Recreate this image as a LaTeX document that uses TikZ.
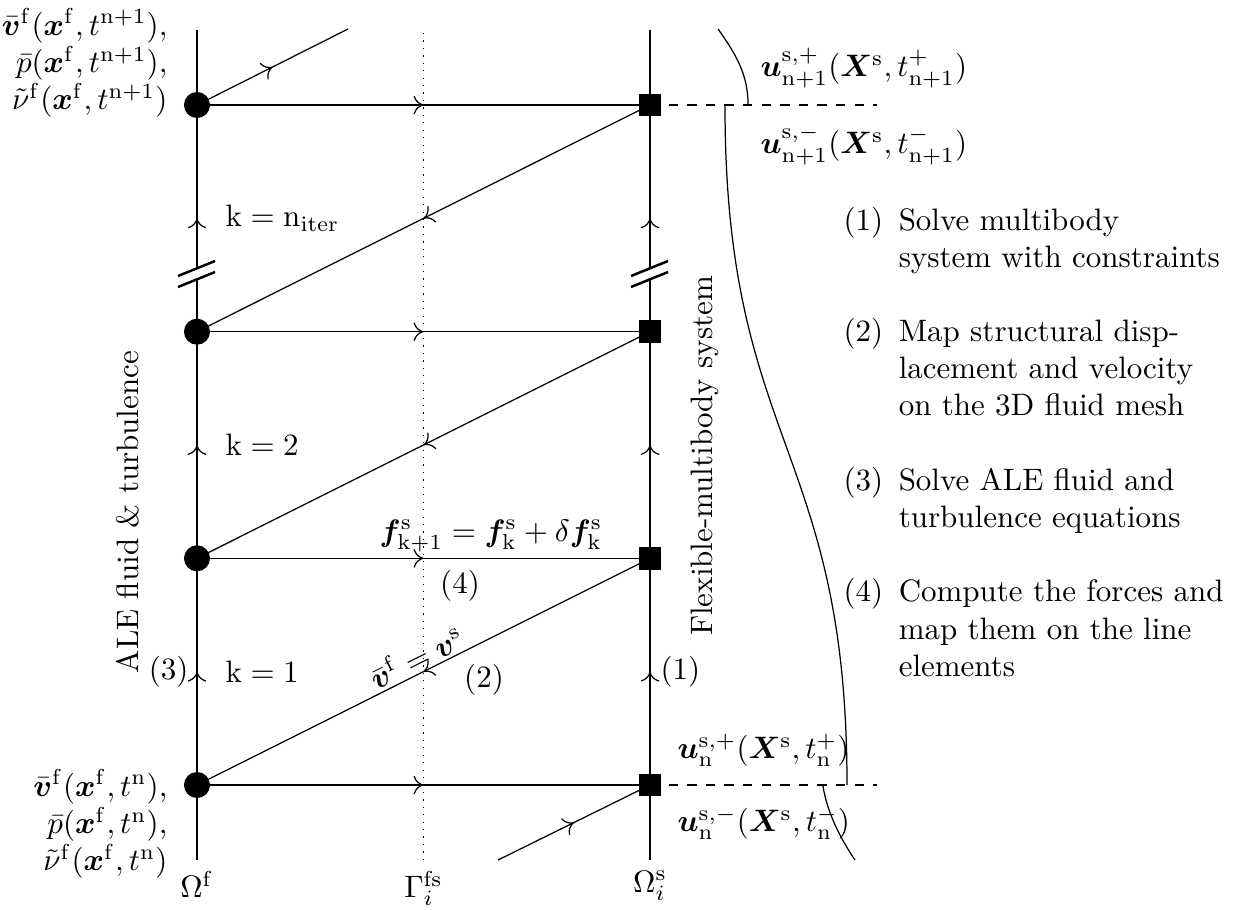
\documentclass[tikz,border=0pt]{standalone}
\usepackage{amsmath,bm}
\usetikzlibrary{decorations.markings,arrows.meta}
\pgfdeclarelayer{bg}
\pgfsetlayers{bg,main}
\tikzset{
  midarrow/.style={postaction={decorate},decoration={markings,mark=at position 0.5 with {\arrow{To[length=3.2pt,width=6pt]}}}},
  fnode/.style={circle,fill=black,inner sep=0pt,minimum size=8.4pt},
  snode/.style={rectangle,fill=black,inner sep=0pt,minimum size=7.3pt},
  brkline/.style={thick},
  tight/.style={inner sep=0pt},
}
\newcommand{\rmm}[1]{\mathrm{#1}}
\begin{document}
\begin{tikzpicture}[x=0.3226pt,y=-0.3226pt]
\useasboundingbox (0,0) rectangle (1234,909);
% fluid nodes (circles) and structure nodes (squares)
\node[fnode] (f0) at (197,785) {};
\node[fnode] (f1) at (197,558.3) {};
\node[fnode] (f2) at (197,331.7) {};
\node[fnode] (f3) at (197,105) {};
\node[snode] (s0) at (650,785) {};
\node[snode] (s1) at (650,558.3) {};
\node[snode] (s2) at (650,331.7) {};
\node[snode] (s3) at (650,105) {};
\coordinate (fbot) at (197,860);
\coordinate (ftop) at (197,30);
\coordinate (sbot) at (650,860);
\coordinate (stop) at (650,30);
\coordinate (gbot) at (423.5,860);
\coordinate (gtop) at (423.5,30);
\coordinate (in0) at (498,860);
\coordinate (out3) at (348,29);
\coordinate (d3) at (877,105);
\coordinate (d0) at (877,785);
\begin{pgfonlayer}{bg}
\draw (fbot) -- (f0.center);
\draw[midarrow] (f0.center) -- (f1.center);
\draw[midarrow] (f1.center) -- (f2.center);
\draw[midarrow] (f2.center) -- (f3.center);
\draw (f3.center) -- (ftop);
\draw (sbot) -- (s0.center);
\draw[midarrow] (s0.center) -- (s1.center);
\draw[midarrow] (s1.center) -- (s2.center);
\draw[midarrow] (s2.center) -- (s3.center);
\draw (s3.center) -- (stop);
\draw[dotted] (gbot) -- (gtop);
\draw[midarrow] (f0.center) -- (s0.center);
\draw[midarrow] (f1.center) -- (s1.center);
\draw[midarrow] (f2.center) -- (s2.center);
\draw[midarrow] (f3.center) -- (s3.center);
\draw[midarrow] (s1.center) -- (f0.center);
\draw[midarrow] (s2.center) -- (f1.center);
\draw[midarrow] (s3.center) -- (f2.center);
\draw[midarrow] (in0) -- (s0.center);
\draw[midarrow] (f3.center) -- (out3);
\draw[dashed] (s3.center) -- (d3);
\draw[dashed] (s0.center) -- (d0);
\end{pgfonlayer}
% break marks
\fill[white] (178,276) -- (215,261) -- (215,271) -- (178,286) -- cycle;
\draw[brkline] (178,276) -- (215,261);
\draw[brkline] (178,287) -- (215,272);
\fill[white] (631,276) -- (668,261) -- (668,271) -- (631,286) -- cycle;
\draw[brkline] (631,276) -- (668,261);
\draw[brkline] (631,287) -- (668,272);
% wavy separator
\draw (718,29) .. controls (736,54) and (748,75) .. (748,104);
\draw (725,106) .. controls (725,446) and (847,446) .. (847,785);
\draw (823,786) .. controls (827,812) and (840,838) .. (855,860);
% left labels
\node[tight,anchor=east,align=right] (lt) at (168,63)
  {$\bar{\bm v}^{\rmm f}(\bm x^{\rmm f},t^{\rmm{n+1}}),$\\
   $\bar{p}(\bm x^{\rmm f},t^{\rmm{n+1}}),$\\
   $\tilde{\nu}^{\rmm f}(\bm x^{\rmm f},t^{\rmm{n+1}})$};
\node[tight,anchor=east,align=right] (lb) at (168,824)
  {$\bar{\bm v}^{\rmm f}(\bm x^{\rmm f},t^{\rmm{n}}),$\\
   $\bar{p}(\bm x^{\rmm f},t^{\rmm{n}}),$\\
   $\tilde{\nu}^{\rmm f}(\bm x^{\rmm f},t^{\rmm{n}})$};
% bottom axis labels
\node[below] (of) at (fbot) {$\Omega^{\rmm f}$};
\node[below] (gfs) at (gbot) {$\Gamma^{\rmm{fs}}_{i}$};
\node[below] (os) at (sbot) {$\Omega^{\rmm s}_{i}$};
% right labels
\node[tight,anchor=west] (up1) at (760,68) {$\bm u^{\rmm{s},+}_{\rmm{n+1}}(\bm X^{\rmm s},t^{+}_{\rmm{n+1}})$};
\node[tight,anchor=west] (um1) at (760,145) {$\bm u^{\rmm{s},-}_{\rmm{n+1}}(\bm X^{\rmm s},t^{-}_{\rmm{n+1}})$};
\node[tight,anchor=west] (up0) at (677,750) {$\bm u^{\rmm{s},+}_{\rmm{n}}(\bm X^{\rmm s},t^{+}_{\rmm{n}})$};
\node[tight,anchor=west] (um0) at (677,823) {$\bm u^{\rmm{s},-}_{\rmm{n}}(\bm X^{\rmm s},t^{-}_{\rmm{n}})$};
% iteration labels
\node[tight,anchor=west] (k3) at (225,218.3) {$\rmm k=\rmm n_{\rmm{iter}}$};
\node[tight,anchor=west] (k2) at (225,445) {$\rmm k=2$};
\node[tight,anchor=west] (k1) at (225,671.7) {$\rmm k=1$};
\node[tight,anchor=east] (st3) at (189,671.7) {(3)};
\node[tight,anchor=west] (st1) at (660,671.7) {(1)};
\node[tight] (st2) at (484,680) {(2)};
\node[tight] (st4) at (460,586) {(4)};
\node[tight] (feq) at (491,536) {$\bm f^{\rmm s}_{\rmm{k+1}}=\bm f^{\rmm s}_{\rmm k}+\delta\bm f^{\rmm s}_{\rmm k}$};
\path (f0.center) -- (s1.center) node[pos=0.5,sloped,above,inner sep=1pt] (veq) {$\bar{\bm v}^{\rmm f}=\bm v^{\rmm s}$};
% side titles
\node[rotate=90] (ale) at (128,512) {ALE fluid \& turbulence};
\node[rotate=90] (fms) at (705,456) {Flexible-multibody system};
% step list
\node[tight,anchor=base west] (list) at (843,230)
  {\begin{tabular}[t]{@{}r@{\hspace{5pt}}l@{}}
   (1) & Solve multibody\\
       & system with constraints\\[12pt]
   (2) & Map structural disp-\\
       & lacement and velocity\\
       & on the 3D fluid mesh\\[12pt]
   (3) & Solve ALE fluid and\\
       & turbulence equations\\[12pt]
   (4) & Compute the forces and\\
       & map them on the line\\
       & elements
   \end{tabular}};
\end{tikzpicture}
\end{document}
